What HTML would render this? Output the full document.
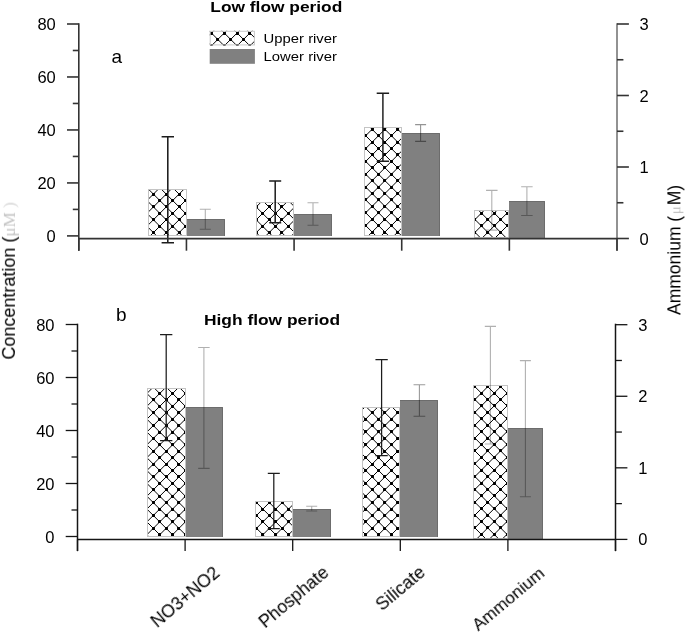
<!DOCTYPE html>
<html><head><meta charset="utf-8"><style>
html,body{margin:0;padding:0;background:#fff;}
svg{display:block;} text{will-change:transform;}
</style></head><body>
<svg width="685" height="633" viewBox="0 0 685 633">
<rect width="685" height="633" fill="#fff"/>
<defs><clipPath id="cu1"><rect x="148.00" y="189.00" width="39.00" height="47.00"/></clipPath><clipPath id="cu2"><rect x="256.00" y="202.00" width="38.00" height="34.00"/></clipPath><clipPath id="cu3"><rect x="364.00" y="127.00" width="38.00" height="109.00"/></clipPath><clipPath id="cu4"><rect x="474.00" y="210.00" width="35.00" height="28.00"/></clipPath><clipPath id="cl1"><rect x="147.00" y="388.00" width="39.00" height="149.00"/></clipPath><clipPath id="cl2"><rect x="255.00" y="501.00" width="38.00" height="36.00"/></clipPath><clipPath id="cl3"><rect x="362.00" y="407.00" width="38.00" height="130.00"/></clipPath><clipPath id="cl4"><rect x="473.00" y="385.00" width="35.00" height="154.00"/></clipPath><clipPath id="cpl"><rect x="209.7" y="30.8" width="45.2" height="14.6"/></clipPath></defs>
<g clip-path="url(#cu1)"><rect x="148.0" y="189.0" width="39.00" height="47.00" fill="#fff"/>
<path d="M145.00 121.50L190.00 166.50M145.00 134.34L190.00 179.34M145.00 147.18L190.00 192.18M145.00 160.02L190.00 205.02M145.00 172.86L190.00 217.86M145.00 185.70L190.00 230.70M145.00 198.54L190.00 243.54M145.00 211.38L190.00 256.38M145.00 224.22L190.00 269.22M145.00 237.06L190.00 282.06M145.00 249.90L190.00 294.90M145.00 176.82L190.00 131.82M145.00 189.66L190.00 144.66M145.00 202.50L190.00 157.50M145.00 215.34L190.00 170.34M145.00 228.18L190.00 183.18M145.00 241.02L190.00 196.02M145.00 253.86L190.00 208.86M145.00 266.70L190.00 221.70M145.00 279.54L190.00 234.54M145.00 292.38L190.00 247.38" stroke="#000" stroke-width="1.0" fill="none"/>
<path d="M145.05 186.05h2.9v2.9h-2.9zM145.05 199.05h2.9v2.9h-2.9zM145.05 212.05h2.9v2.9h-2.9zM145.05 225.05h2.9v2.9h-2.9zM152.05 193.05h2.9v2.9h-2.9zM152.05 205.05h2.9v2.9h-2.9zM152.05 218.05h2.9v2.9h-2.9zM152.05 231.05h2.9v2.9h-2.9zM158.05 186.05h2.9v2.9h-2.9zM158.05 199.05h2.9v2.9h-2.9zM158.05 212.05h2.9v2.9h-2.9zM158.05 225.05h2.9v2.9h-2.9zM165.05 193.05h2.9v2.9h-2.9zM165.05 205.05h2.9v2.9h-2.9zM165.05 218.05h2.9v2.9h-2.9zM165.05 231.05h2.9v2.9h-2.9zM171.05 186.05h2.9v2.9h-2.9zM171.05 199.05h2.9v2.9h-2.9zM171.05 212.05h2.9v2.9h-2.9zM171.05 225.05h2.9v2.9h-2.9zM178.05 193.05h2.9v2.9h-2.9zM178.05 205.05h2.9v2.9h-2.9zM178.05 218.05h2.9v2.9h-2.9zM178.05 231.05h2.9v2.9h-2.9zM184.05 186.05h2.9v2.9h-2.9zM184.05 199.05h2.9v2.9h-2.9zM184.05 212.05h2.9v2.9h-2.9zM184.05 225.05h2.9v2.9h-2.9z" fill="#000"/></g>
<rect x="148.50" y="189.50" width="38.00" height="46.00" fill="none" stroke="#c4c4c4" stroke-width="1"/>
<rect x="187" y="219" width="38" height="17" fill="#808080"/>
<path d="M187 219.5H224.5V236" fill="none" stroke="#6c6c6c" stroke-width="1"/>
<g clip-path="url(#cu2)"><rect x="256.0" y="202.0" width="38.00" height="34.00" fill="#fff"/>
<path d="M253.00 139.60L297.00 183.60M253.00 152.44L297.00 196.44M253.00 165.28L297.00 209.28M253.00 178.12L297.00 222.12M253.00 190.96L297.00 234.96M253.00 203.80L297.00 247.80M253.00 216.64L297.00 260.64M253.00 229.48L297.00 273.48M253.00 242.32L297.00 286.32M253.00 255.16L297.00 299.16M253.00 184.48L297.00 140.48M253.00 197.32L297.00 153.32M253.00 210.16L297.00 166.16M253.00 223.00L297.00 179.00M253.00 235.84L297.00 191.84M253.00 248.68L297.00 204.68M253.00 261.52L297.00 217.52M253.00 274.36L297.00 230.36M253.00 287.20L297.00 243.20M253.00 300.04L297.00 256.04" stroke="#000" stroke-width="1.0" fill="none"/>
<path d="M255.05 205.05h2.9v2.9h-2.9zM255.05 218.05h2.9v2.9h-2.9zM255.05 231.05h2.9v2.9h-2.9zM261.05 199.05h2.9v2.9h-2.9zM261.05 212.05h2.9v2.9h-2.9zM261.05 225.05h2.9v2.9h-2.9zM268.05 205.05h2.9v2.9h-2.9zM268.05 218.05h2.9v2.9h-2.9zM268.05 231.05h2.9v2.9h-2.9zM274.05 199.05h2.9v2.9h-2.9zM274.05 212.05h2.9v2.9h-2.9zM274.05 225.05h2.9v2.9h-2.9zM280.05 205.05h2.9v2.9h-2.9zM280.05 218.05h2.9v2.9h-2.9zM280.05 231.05h2.9v2.9h-2.9zM287.05 199.05h2.9v2.9h-2.9zM287.05 212.05h2.9v2.9h-2.9zM287.05 225.05h2.9v2.9h-2.9zM293.05 205.05h2.9v2.9h-2.9zM293.05 218.05h2.9v2.9h-2.9zM293.05 231.05h2.9v2.9h-2.9z" fill="#000"/></g>
<rect x="256.50" y="202.50" width="37.00" height="33.00" fill="none" stroke="#c4c4c4" stroke-width="1"/>
<rect x="294" y="214" width="38" height="22" fill="#808080"/>
<path d="M294 214.5H331.5V236" fill="none" stroke="#6c6c6c" stroke-width="1"/>
<g clip-path="url(#cu3)"><rect x="364.0" y="127.0" width="38.00" height="109.00" fill="#fff"/>
<path d="M361.00 66.84L405.00 110.84M361.00 79.68L405.00 123.68M361.00 92.52L405.00 136.52M361.00 105.36L405.00 149.36M361.00 118.20L405.00 162.20M361.00 131.04L405.00 175.04M361.00 143.88L405.00 187.88M361.00 156.72L405.00 200.72M361.00 169.56L405.00 213.56M361.00 182.40L405.00 226.40M361.00 195.24L405.00 239.24M361.00 208.08L405.00 252.08M361.00 220.92L405.00 264.92M361.00 233.76L405.00 277.76M361.00 246.60L405.00 290.60M361.00 114.72L405.00 70.72M361.00 127.56L405.00 83.56M361.00 140.40L405.00 96.40M361.00 153.24L405.00 109.24M361.00 166.08L405.00 122.08M361.00 178.92L405.00 134.92M361.00 191.76L405.00 147.76M361.00 204.60L405.00 160.60M361.00 217.44L405.00 173.44M361.00 230.28L405.00 186.28M361.00 243.12L405.00 199.12M361.00 255.96L405.00 211.96M361.00 268.80L405.00 224.80M361.00 281.64L405.00 237.64M361.00 294.48L405.00 250.48" stroke="#000" stroke-width="1.0" fill="none"/>
<path d="M364.05 134.05h2.9v2.9h-2.9zM364.05 147.05h2.9v2.9h-2.9zM364.05 160.05h2.9v2.9h-2.9zM364.05 173.05h2.9v2.9h-2.9zM364.05 186.05h2.9v2.9h-2.9zM364.05 198.05h2.9v2.9h-2.9zM364.05 211.05h2.9v2.9h-2.9zM364.05 224.05h2.9v2.9h-2.9zM371.05 128.05h2.9v2.9h-2.9zM371.05 141.05h2.9v2.9h-2.9zM371.05 153.05h2.9v2.9h-2.9zM371.05 166.05h2.9v2.9h-2.9zM371.05 179.05h2.9v2.9h-2.9zM371.05 192.05h2.9v2.9h-2.9zM371.05 205.05h2.9v2.9h-2.9zM371.05 218.05h2.9v2.9h-2.9zM371.05 231.05h2.9v2.9h-2.9zM377.05 134.05h2.9v2.9h-2.9zM377.05 147.05h2.9v2.9h-2.9zM377.05 160.05h2.9v2.9h-2.9zM377.05 173.05h2.9v2.9h-2.9zM377.05 186.05h2.9v2.9h-2.9zM377.05 198.05h2.9v2.9h-2.9zM377.05 211.05h2.9v2.9h-2.9zM377.05 224.05h2.9v2.9h-2.9zM383.05 128.05h2.9v2.9h-2.9zM383.05 141.05h2.9v2.9h-2.9zM383.05 153.05h2.9v2.9h-2.9zM383.05 166.05h2.9v2.9h-2.9zM383.05 179.05h2.9v2.9h-2.9zM383.05 192.05h2.9v2.9h-2.9zM383.05 205.05h2.9v2.9h-2.9zM383.05 218.05h2.9v2.9h-2.9zM383.05 231.05h2.9v2.9h-2.9zM390.05 134.05h2.9v2.9h-2.9zM390.05 147.05h2.9v2.9h-2.9zM390.05 160.05h2.9v2.9h-2.9zM390.05 173.05h2.9v2.9h-2.9zM390.05 186.05h2.9v2.9h-2.9zM390.05 198.05h2.9v2.9h-2.9zM390.05 211.05h2.9v2.9h-2.9zM390.05 224.05h2.9v2.9h-2.9zM396.05 128.05h2.9v2.9h-2.9zM396.05 141.05h2.9v2.9h-2.9zM396.05 153.05h2.9v2.9h-2.9zM396.05 166.05h2.9v2.9h-2.9zM396.05 179.05h2.9v2.9h-2.9zM396.05 192.05h2.9v2.9h-2.9zM396.05 205.05h2.9v2.9h-2.9zM396.05 218.05h2.9v2.9h-2.9zM396.05 231.05h2.9v2.9h-2.9z" fill="#000"/></g>
<rect x="364.50" y="127.50" width="37.00" height="108.00" fill="none" stroke="#c4c4c4" stroke-width="1"/>
<rect x="402" y="133" width="38" height="103" fill="#808080"/>
<path d="M402 133.5H439.5V236" fill="none" stroke="#6c6c6c" stroke-width="1"/>
<g clip-path="url(#cu4)"><rect x="474.0" y="210.0" width="35.00" height="28.00" fill="#fff"/>
<path d="M471.00 151.34L512.00 192.34M471.00 164.18L512.00 205.18M471.00 177.02L512.00 218.02M471.00 189.86L512.00 230.86M471.00 202.70L512.00 243.70M471.00 215.54L512.00 256.54M471.00 228.38L512.00 269.38M471.00 241.22L512.00 282.22M471.00 254.06L512.00 295.06M471.00 197.82L512.00 156.82M471.00 210.66L512.00 169.66M471.00 223.50L512.00 182.50M471.00 236.34L512.00 195.34M471.00 249.18L512.00 208.18M471.00 262.02L512.00 221.02M471.00 274.86L512.00 233.86M471.00 287.70L512.00 246.70M471.00 300.54L512.00 259.54" stroke="#000" stroke-width="1.0" fill="none"/>
<path d="M473.05 218.05h2.9v2.9h-2.9zM473.05 231.05h2.9v2.9h-2.9zM480.05 212.05h2.9v2.9h-2.9zM480.05 224.05h2.9v2.9h-2.9zM480.05 237.05h2.9v2.9h-2.9zM486.05 218.05h2.9v2.9h-2.9zM486.05 231.05h2.9v2.9h-2.9zM493.05 212.05h2.9v2.9h-2.9zM493.05 224.05h2.9v2.9h-2.9zM493.05 237.05h2.9v2.9h-2.9zM499.05 218.05h2.9v2.9h-2.9zM499.05 231.05h2.9v2.9h-2.9zM506.05 212.05h2.9v2.9h-2.9zM506.05 224.05h2.9v2.9h-2.9zM506.05 237.05h2.9v2.9h-2.9z" fill="#000"/></g>
<rect x="474.50" y="210.50" width="34.00" height="27.00" fill="none" stroke="#c4c4c4" stroke-width="1"/>
<rect x="509" y="201" width="36" height="37" fill="#808080"/>
<path d="M509 201.5H544.5V238" fill="none" stroke="#6c6c6c" stroke-width="1"/>
<g clip-path="url(#cl1)"><rect x="147.0" y="388.0" width="39.00" height="149.00" fill="#fff"/>
<path d="M144.00 326.40L189.00 371.40M144.00 339.24L189.00 384.24M144.00 352.08L189.00 397.08M144.00 364.92L189.00 409.92M144.00 377.76L189.00 422.76M144.00 390.60L189.00 435.60M144.00 403.44L189.00 448.44M144.00 416.28L189.00 461.28M144.00 429.12L189.00 474.12M144.00 441.96L189.00 486.96M144.00 454.80L189.00 499.80M144.00 467.64L189.00 512.64M144.00 480.48L189.00 525.48M144.00 493.32L189.00 538.32M144.00 506.16L189.00 551.16M144.00 519.00L189.00 564.00M144.00 531.84L189.00 576.84M144.00 544.68L189.00 589.68M144.00 557.52L189.00 602.52M144.00 370.68L189.00 325.68M144.00 383.52L189.00 338.52M144.00 396.36L189.00 351.36M144.00 409.20L189.00 364.20M144.00 422.04L189.00 377.04M144.00 434.88L189.00 389.88M144.00 447.72L189.00 402.72M144.00 460.56L189.00 415.56M144.00 473.40L189.00 428.40M144.00 486.24L189.00 441.24M144.00 499.08L189.00 454.08M144.00 511.92L189.00 466.92M144.00 524.76L189.00 479.76M144.00 537.60L189.00 492.60M144.00 550.44L189.00 505.44M144.00 563.28L189.00 518.28M144.00 576.12L189.00 531.12M144.00 588.96L189.00 543.96M144.00 601.80L189.00 556.80" stroke="#000" stroke-width="1.0" fill="none"/>
<path d="M145.05 392.05h2.9v2.9h-2.9zM145.05 405.05h2.9v2.9h-2.9zM145.05 418.05h2.9v2.9h-2.9zM145.05 431.05h2.9v2.9h-2.9zM145.05 443.05h2.9v2.9h-2.9zM145.05 456.05h2.9v2.9h-2.9zM145.05 469.05h2.9v2.9h-2.9zM145.05 482.05h2.9v2.9h-2.9zM145.05 495.05h2.9v2.9h-2.9zM145.05 508.05h2.9v2.9h-2.9zM145.05 520.05h2.9v2.9h-2.9zM145.05 533.05h2.9v2.9h-2.9zM152.05 386.05h2.9v2.9h-2.9zM152.05 398.05h2.9v2.9h-2.9zM152.05 411.05h2.9v2.9h-2.9zM152.05 424.05h2.9v2.9h-2.9zM152.05 437.05h2.9v2.9h-2.9zM152.05 450.05h2.9v2.9h-2.9zM152.05 463.05h2.9v2.9h-2.9zM152.05 475.05h2.9v2.9h-2.9zM152.05 488.05h2.9v2.9h-2.9zM152.05 501.05h2.9v2.9h-2.9zM152.05 514.05h2.9v2.9h-2.9zM152.05 527.05h2.9v2.9h-2.9zM158.05 392.05h2.9v2.9h-2.9zM158.05 405.05h2.9v2.9h-2.9zM158.05 418.05h2.9v2.9h-2.9zM158.05 431.05h2.9v2.9h-2.9zM158.05 443.05h2.9v2.9h-2.9zM158.05 456.05h2.9v2.9h-2.9zM158.05 469.05h2.9v2.9h-2.9zM158.05 482.05h2.9v2.9h-2.9zM158.05 495.05h2.9v2.9h-2.9zM158.05 508.05h2.9v2.9h-2.9zM158.05 520.05h2.9v2.9h-2.9zM158.05 533.05h2.9v2.9h-2.9zM165.05 386.05h2.9v2.9h-2.9zM165.05 398.05h2.9v2.9h-2.9zM165.05 411.05h2.9v2.9h-2.9zM165.05 424.05h2.9v2.9h-2.9zM165.05 437.05h2.9v2.9h-2.9zM165.05 450.05h2.9v2.9h-2.9zM165.05 463.05h2.9v2.9h-2.9zM165.05 475.05h2.9v2.9h-2.9zM165.05 488.05h2.9v2.9h-2.9zM165.05 501.05h2.9v2.9h-2.9zM165.05 514.05h2.9v2.9h-2.9zM165.05 527.05h2.9v2.9h-2.9zM171.05 392.05h2.9v2.9h-2.9zM171.05 405.05h2.9v2.9h-2.9zM171.05 418.05h2.9v2.9h-2.9zM171.05 431.05h2.9v2.9h-2.9zM171.05 443.05h2.9v2.9h-2.9zM171.05 456.05h2.9v2.9h-2.9zM171.05 469.05h2.9v2.9h-2.9zM171.05 482.05h2.9v2.9h-2.9zM171.05 495.05h2.9v2.9h-2.9zM171.05 508.05h2.9v2.9h-2.9zM171.05 520.05h2.9v2.9h-2.9zM171.05 533.05h2.9v2.9h-2.9zM177.05 386.05h2.9v2.9h-2.9zM177.05 398.05h2.9v2.9h-2.9zM177.05 411.05h2.9v2.9h-2.9zM177.05 424.05h2.9v2.9h-2.9zM177.05 437.05h2.9v2.9h-2.9zM177.05 450.05h2.9v2.9h-2.9zM177.05 463.05h2.9v2.9h-2.9zM177.05 475.05h2.9v2.9h-2.9zM177.05 488.05h2.9v2.9h-2.9zM177.05 501.05h2.9v2.9h-2.9zM177.05 514.05h2.9v2.9h-2.9zM177.05 527.05h2.9v2.9h-2.9zM184.05 392.05h2.9v2.9h-2.9zM184.05 405.05h2.9v2.9h-2.9zM184.05 418.05h2.9v2.9h-2.9zM184.05 431.05h2.9v2.9h-2.9zM184.05 443.05h2.9v2.9h-2.9zM184.05 456.05h2.9v2.9h-2.9zM184.05 469.05h2.9v2.9h-2.9zM184.05 482.05h2.9v2.9h-2.9zM184.05 495.05h2.9v2.9h-2.9zM184.05 508.05h2.9v2.9h-2.9zM184.05 520.05h2.9v2.9h-2.9zM184.05 533.05h2.9v2.9h-2.9z" fill="#000"/></g>
<rect x="147.50" y="388.50" width="38.00" height="148.00" fill="none" stroke="#c4c4c4" stroke-width="1"/>
<rect x="186" y="407" width="37" height="130" fill="#808080"/>
<path d="M186 407.5H222.5V537" fill="none" stroke="#6c6c6c" stroke-width="1"/>
<g clip-path="url(#cl2)"><rect x="255.0" y="501.0" width="38.00" height="36.00" fill="#fff"/>
<path d="M252.00 446.74L296.00 490.74M252.00 459.58L296.00 503.58M252.00 472.42L296.00 516.42M252.00 485.26L296.00 529.26M252.00 498.10L296.00 542.10M252.00 510.94L296.00 554.94M252.00 523.78L296.00 567.78M252.00 536.62L296.00 580.62M252.00 549.46L296.00 593.46M252.00 481.42L296.00 437.42M252.00 494.26L296.00 450.26M252.00 507.10L296.00 463.10M252.00 519.94L296.00 475.94M252.00 532.78L296.00 488.78M252.00 545.62L296.00 501.62M252.00 558.46L296.00 514.46M252.00 571.30L296.00 527.30M252.00 584.14L296.00 540.14M252.00 596.98L296.00 552.98" stroke="#000" stroke-width="1.0" fill="none"/>
<path d="M255.05 501.05h2.9v2.9h-2.9zM255.05 514.05h2.9v2.9h-2.9zM255.05 527.05h2.9v2.9h-2.9zM261.05 508.05h2.9v2.9h-2.9zM261.05 520.05h2.9v2.9h-2.9zM261.05 533.05h2.9v2.9h-2.9zM268.05 501.05h2.9v2.9h-2.9zM268.05 514.05h2.9v2.9h-2.9zM268.05 527.05h2.9v2.9h-2.9zM274.05 508.05h2.9v2.9h-2.9zM274.05 520.05h2.9v2.9h-2.9zM274.05 533.05h2.9v2.9h-2.9zM281.05 501.05h2.9v2.9h-2.9zM281.05 514.05h2.9v2.9h-2.9zM281.05 527.05h2.9v2.9h-2.9zM287.05 508.05h2.9v2.9h-2.9zM287.05 520.05h2.9v2.9h-2.9zM287.05 533.05h2.9v2.9h-2.9z" fill="#000"/></g>
<rect x="255.50" y="501.50" width="37.00" height="35.00" fill="none" stroke="#c4c4c4" stroke-width="1"/>
<rect x="293" y="509" width="38" height="28" fill="#808080"/>
<path d="M293 509.5H330.5V537" fill="none" stroke="#6c6c6c" stroke-width="1"/>
<g clip-path="url(#cl3)"><rect x="362.0" y="407.0" width="38.00" height="130.00" fill="#fff"/>
<path d="M359.00 348.24L403.00 392.24M359.00 361.08L403.00 405.08M359.00 373.92L403.00 417.92M359.00 386.76L403.00 430.76M359.00 399.60L403.00 443.60M359.00 412.44L403.00 456.44M359.00 425.28L403.00 469.28M359.00 438.12L403.00 482.12M359.00 450.96L403.00 494.96M359.00 463.80L403.00 507.80M359.00 476.64L403.00 520.64M359.00 489.48L403.00 533.48M359.00 502.32L403.00 546.32M359.00 515.16L403.00 559.16M359.00 528.00L403.00 572.00M359.00 540.84L403.00 584.84M359.00 553.68L403.00 597.68M359.00 387.28L403.00 343.28M359.00 400.12L403.00 356.12M359.00 412.96L403.00 368.96M359.00 425.80L403.00 381.80M359.00 438.64L403.00 394.64M359.00 451.48L403.00 407.48M359.00 464.32L403.00 420.32M359.00 477.16L403.00 433.16M359.00 490.00L403.00 446.00M359.00 502.84L403.00 458.84M359.00 515.68L403.00 471.68M359.00 528.52L403.00 484.52M359.00 541.36L403.00 497.36M359.00 554.20L403.00 510.20M359.00 567.04L403.00 523.04M359.00 579.88L403.00 535.88M359.00 592.72L403.00 548.72" stroke="#000" stroke-width="1.0" fill="none"/>
<path d="M364.05 405.05h2.9v2.9h-2.9zM364.05 418.05h2.9v2.9h-2.9zM364.05 430.05h2.9v2.9h-2.9zM364.05 443.05h2.9v2.9h-2.9zM364.05 456.05h2.9v2.9h-2.9zM364.05 469.05h2.9v2.9h-2.9zM364.05 482.05h2.9v2.9h-2.9zM364.05 495.05h2.9v2.9h-2.9zM364.05 508.05h2.9v2.9h-2.9zM364.05 520.05h2.9v2.9h-2.9zM364.05 533.05h2.9v2.9h-2.9zM371.05 411.05h2.9v2.9h-2.9zM371.05 424.05h2.9v2.9h-2.9zM371.05 437.05h2.9v2.9h-2.9zM371.05 450.05h2.9v2.9h-2.9zM371.05 463.05h2.9v2.9h-2.9zM371.05 475.05h2.9v2.9h-2.9zM371.05 488.05h2.9v2.9h-2.9zM371.05 501.05h2.9v2.9h-2.9zM371.05 514.05h2.9v2.9h-2.9zM371.05 527.05h2.9v2.9h-2.9zM377.05 405.05h2.9v2.9h-2.9zM377.05 418.05h2.9v2.9h-2.9zM377.05 430.05h2.9v2.9h-2.9zM377.05 443.05h2.9v2.9h-2.9zM377.05 456.05h2.9v2.9h-2.9zM377.05 469.05h2.9v2.9h-2.9zM377.05 482.05h2.9v2.9h-2.9zM377.05 495.05h2.9v2.9h-2.9zM377.05 508.05h2.9v2.9h-2.9zM377.05 520.05h2.9v2.9h-2.9zM377.05 533.05h2.9v2.9h-2.9zM383.05 411.05h2.9v2.9h-2.9zM383.05 424.05h2.9v2.9h-2.9zM383.05 437.05h2.9v2.9h-2.9zM383.05 450.05h2.9v2.9h-2.9zM383.05 463.05h2.9v2.9h-2.9zM383.05 475.05h2.9v2.9h-2.9zM383.05 488.05h2.9v2.9h-2.9zM383.05 501.05h2.9v2.9h-2.9zM383.05 514.05h2.9v2.9h-2.9zM383.05 527.05h2.9v2.9h-2.9zM390.05 405.05h2.9v2.9h-2.9zM390.05 418.05h2.9v2.9h-2.9zM390.05 430.05h2.9v2.9h-2.9zM390.05 443.05h2.9v2.9h-2.9zM390.05 456.05h2.9v2.9h-2.9zM390.05 469.05h2.9v2.9h-2.9zM390.05 482.05h2.9v2.9h-2.9zM390.05 495.05h2.9v2.9h-2.9zM390.05 508.05h2.9v2.9h-2.9zM390.05 520.05h2.9v2.9h-2.9zM390.05 533.05h2.9v2.9h-2.9zM396.05 411.05h2.9v2.9h-2.9zM396.05 424.05h2.9v2.9h-2.9zM396.05 437.05h2.9v2.9h-2.9zM396.05 450.05h2.9v2.9h-2.9zM396.05 463.05h2.9v2.9h-2.9zM396.05 475.05h2.9v2.9h-2.9zM396.05 488.05h2.9v2.9h-2.9zM396.05 501.05h2.9v2.9h-2.9zM396.05 514.05h2.9v2.9h-2.9zM396.05 527.05h2.9v2.9h-2.9z" fill="#000"/></g>
<rect x="362.50" y="407.50" width="37.00" height="129.00" fill="none" stroke="#c4c4c4" stroke-width="1"/>
<rect x="400" y="400" width="38" height="137" fill="#808080"/>
<path d="M400 400.5H437.5V537" fill="none" stroke="#6c6c6c" stroke-width="1"/>
<g clip-path="url(#cl4)"><rect x="473.0" y="385.0" width="35.00" height="154.00" fill="#fff"/>
<path d="M470.00 330.44L511.00 371.44M470.00 343.28L511.00 384.28M470.00 356.12L511.00 397.12M470.00 368.96L511.00 409.96M470.00 381.80L511.00 422.80M470.00 394.64L511.00 435.64M470.00 407.48L511.00 448.48M470.00 420.32L511.00 461.32M470.00 433.16L511.00 474.16M470.00 446.00L511.00 487.00M470.00 458.84L511.00 499.84M470.00 471.68L511.00 512.68M470.00 484.52L511.00 525.52M470.00 497.36L511.00 538.36M470.00 510.20L511.00 551.20M470.00 523.04L511.00 564.04M470.00 535.88L511.00 576.88M470.00 548.72L511.00 589.72M470.00 561.56L511.00 602.56M470.00 365.92L511.00 324.92M470.00 378.76L511.00 337.76M470.00 391.60L511.00 350.60M470.00 404.44L511.00 363.44M470.00 417.28L511.00 376.28M470.00 430.12L511.00 389.12M470.00 442.96L511.00 401.96M470.00 455.80L511.00 414.80M470.00 468.64L511.00 427.64M470.00 481.48L511.00 440.48M470.00 494.32L511.00 453.32M470.00 507.16L511.00 466.16M470.00 520.00L511.00 479.00M470.00 532.84L511.00 491.84M470.00 545.68L511.00 504.68M470.00 558.52L511.00 517.52M470.00 571.36L511.00 530.36M470.00 584.20L511.00 543.20M470.00 597.04L511.00 556.04" stroke="#000" stroke-width="1.0" fill="none"/>
<path d="M473.05 385.05h2.9v2.9h-2.9zM473.05 398.05h2.9v2.9h-2.9zM473.05 411.05h2.9v2.9h-2.9zM473.05 424.05h2.9v2.9h-2.9zM473.05 437.05h2.9v2.9h-2.9zM473.05 449.05h2.9v2.9h-2.9zM473.05 462.05h2.9v2.9h-2.9zM473.05 475.05h2.9v2.9h-2.9zM473.05 488.05h2.9v2.9h-2.9zM473.05 501.05h2.9v2.9h-2.9zM473.05 514.05h2.9v2.9h-2.9zM473.05 526.05h2.9v2.9h-2.9zM473.05 539.05h2.9v2.9h-2.9zM480.05 392.05h2.9v2.9h-2.9zM480.05 404.05h2.9v2.9h-2.9zM480.05 417.05h2.9v2.9h-2.9zM480.05 430.05h2.9v2.9h-2.9zM480.05 443.05h2.9v2.9h-2.9zM480.05 456.05h2.9v2.9h-2.9zM480.05 469.05h2.9v2.9h-2.9zM480.05 482.05h2.9v2.9h-2.9zM480.05 494.05h2.9v2.9h-2.9zM480.05 507.05h2.9v2.9h-2.9zM480.05 520.05h2.9v2.9h-2.9zM480.05 533.05h2.9v2.9h-2.9zM486.05 385.05h2.9v2.9h-2.9zM486.05 398.05h2.9v2.9h-2.9zM486.05 411.05h2.9v2.9h-2.9zM486.05 424.05h2.9v2.9h-2.9zM486.05 437.05h2.9v2.9h-2.9zM486.05 449.05h2.9v2.9h-2.9zM486.05 462.05h2.9v2.9h-2.9zM486.05 475.05h2.9v2.9h-2.9zM486.05 488.05h2.9v2.9h-2.9zM486.05 501.05h2.9v2.9h-2.9zM486.05 514.05h2.9v2.9h-2.9zM486.05 526.05h2.9v2.9h-2.9zM486.05 539.05h2.9v2.9h-2.9zM493.05 392.05h2.9v2.9h-2.9zM493.05 404.05h2.9v2.9h-2.9zM493.05 417.05h2.9v2.9h-2.9zM493.05 430.05h2.9v2.9h-2.9zM493.05 443.05h2.9v2.9h-2.9zM493.05 456.05h2.9v2.9h-2.9zM493.05 469.05h2.9v2.9h-2.9zM493.05 482.05h2.9v2.9h-2.9zM493.05 494.05h2.9v2.9h-2.9zM493.05 507.05h2.9v2.9h-2.9zM493.05 520.05h2.9v2.9h-2.9zM493.05 533.05h2.9v2.9h-2.9zM499.05 385.05h2.9v2.9h-2.9zM499.05 398.05h2.9v2.9h-2.9zM499.05 411.05h2.9v2.9h-2.9zM499.05 424.05h2.9v2.9h-2.9zM499.05 437.05h2.9v2.9h-2.9zM499.05 449.05h2.9v2.9h-2.9zM499.05 462.05h2.9v2.9h-2.9zM499.05 475.05h2.9v2.9h-2.9zM499.05 488.05h2.9v2.9h-2.9zM499.05 501.05h2.9v2.9h-2.9zM499.05 514.05h2.9v2.9h-2.9zM499.05 526.05h2.9v2.9h-2.9zM499.05 539.05h2.9v2.9h-2.9zM506.05 392.05h2.9v2.9h-2.9zM506.05 404.05h2.9v2.9h-2.9zM506.05 417.05h2.9v2.9h-2.9zM506.05 430.05h2.9v2.9h-2.9zM506.05 443.05h2.9v2.9h-2.9zM506.05 456.05h2.9v2.9h-2.9zM506.05 469.05h2.9v2.9h-2.9zM506.05 482.05h2.9v2.9h-2.9zM506.05 494.05h2.9v2.9h-2.9zM506.05 507.05h2.9v2.9h-2.9zM506.05 520.05h2.9v2.9h-2.9zM506.05 533.05h2.9v2.9h-2.9z" fill="#000"/></g>
<rect x="473.50" y="385.50" width="34.00" height="153.00" fill="none" stroke="#c4c4c4" stroke-width="1"/>
<rect x="508" y="428" width="35" height="111" fill="#808080"/>
<path d="M508 428.5H542.5V539" fill="none" stroke="#6c6c6c" stroke-width="1"/>
<path d="M167.80 136.75V242.80M161.60 136.75H174.00M161.60 242.80H174.00" stroke="#1c1c1c" stroke-width="1.55" fill="none"/>
<path d="M205.30 209.20V229.20M199.80 209.20H210.80M199.80 229.20H210.80" stroke="rgba(0,0,0,0.31)" stroke-width="1.1" fill="none"/>
<path d="M275.20 181.00V222.80M269.20 181.00H281.20M269.20 222.80H281.20" stroke="#1c1c1c" stroke-width="1.5" fill="none"/>
<path d="M313.00 202.80V225.20M307.50 202.80H318.50M307.50 225.20H318.50" stroke="rgba(0,0,0,0.31)" stroke-width="1.1" fill="none"/>
<path d="M382.90 93.30V161.20M376.70 93.30H389.10M376.70 161.20H389.10" stroke="#1c1c1c" stroke-width="1.45" fill="none"/>
<path d="M420.60 124.60V141.40M415.10 124.60H426.10M415.10 141.40H426.10" stroke="rgba(0,0,0,0.42)" stroke-width="1.1" fill="none"/>
<path d="M491.80 190.40V230.10M486.05 190.40H497.55M486.05 230.10H497.55" stroke="rgba(0,0,0,0.31)" stroke-width="1.1" fill="none"/>
<path d="M526.90 186.80V215.50M521.15 186.80H532.65M521.15 215.50H532.65" stroke="rgba(0,0,0,0.31)" stroke-width="1.1" fill="none"/>
<path d="M166.20 334.50V440.50M160.05 334.50H172.35M160.05 440.50H172.35" stroke="#1c1c1c" stroke-width="1.25" fill="none"/>
<path d="M203.90 347.50V468.40M198.15 347.50H209.65M198.15 468.40H209.65" stroke="rgba(0,0,0,0.31)" stroke-width="1.1" fill="none"/>
<path d="M273.80 473.30V528.70M267.80 473.30H279.80M267.80 528.70H279.80" stroke="#1c1c1c" stroke-width="1.25" fill="none"/>
<path d="M311.70 506.30V511.00M306.20 506.30H317.20M306.20 511.00H317.20" stroke="rgba(0,0,0,0.31)" stroke-width="1.1" fill="none"/>
<path d="M381.60 359.50V455.50M375.45 359.50H387.75M375.45 455.50H387.75" stroke="#1c1c1c" stroke-width="1.25" fill="none"/>
<path d="M419.40 384.70V416.30M413.55 384.70H425.25M413.55 416.30H425.25" stroke="rgba(0,0,0,0.4)" stroke-width="1.1" fill="none"/>
<path d="M490.40 326.40V444.00M484.80 326.40H496.00M484.80 444.00H496.00" stroke="rgba(0,0,0,0.31)" stroke-width="1.1" fill="none"/>
<path d="M525.40 360.60V496.80M519.90 360.60H530.90M519.90 496.80H530.90" stroke="rgba(0,0,0,0.31)" stroke-width="1.1" fill="none"/>
<line x1="78.8" y1="23.2" x2="78.8" y2="250.7" stroke="#333" stroke-width="1.6"/>
<line x1="67.00" y1="24.00" x2="78.8" y2="24.00" stroke="#333" stroke-width="1.6"/>
<line x1="72.80" y1="50.49" x2="78.8" y2="50.49" stroke="#333" stroke-width="1.6"/>
<line x1="67.00" y1="76.97" x2="78.8" y2="76.97" stroke="#333" stroke-width="1.6"/>
<line x1="72.80" y1="103.46" x2="78.8" y2="103.46" stroke="#333" stroke-width="1.6"/>
<line x1="67.00" y1="129.95" x2="78.8" y2="129.95" stroke="#333" stroke-width="1.6"/>
<line x1="72.80" y1="156.44" x2="78.8" y2="156.44" stroke="#333" stroke-width="1.6"/>
<line x1="67.00" y1="182.93" x2="78.8" y2="182.93" stroke="#333" stroke-width="1.6"/>
<line x1="72.80" y1="209.41" x2="78.8" y2="209.41" stroke="#333" stroke-width="1.6"/>
<line x1="67.00" y1="235.90" x2="78.8" y2="235.90" stroke="#333" stroke-width="1.6"/>
<line x1="617.0" y1="23.2" x2="617.0" y2="250.7" stroke="#777" stroke-width="1.6"/>
<line x1="617.0" y1="24.00" x2="628.90" y2="24.00" stroke="#333" stroke-width="1.6"/>
<line x1="617.0" y1="59.75" x2="623.40" y2="59.75" stroke="#333" stroke-width="1.6"/>
<line x1="617.0" y1="95.50" x2="628.90" y2="95.50" stroke="#333" stroke-width="1.6"/>
<line x1="617.0" y1="131.25" x2="623.40" y2="131.25" stroke="#333" stroke-width="1.6"/>
<line x1="617.0" y1="167.00" x2="628.90" y2="167.00" stroke="#333" stroke-width="1.6"/>
<line x1="617.0" y1="202.75" x2="623.40" y2="202.75" stroke="#333" stroke-width="1.6"/>
<line x1="617.0" y1="238.50" x2="628.90" y2="238.50" stroke="#333" stroke-width="1.6"/>
<line x1="78.8" y1="238.6" x2="617.0" y2="238.6" stroke="#333" stroke-width="1.6"/>
<line x1="78.80" y1="238.6" x2="78.80" y2="250.7" stroke="#333" stroke-width="1.6"/>
<line x1="186.44" y1="238.6" x2="186.44" y2="250.7" stroke="#333" stroke-width="1.6"/>
<line x1="294.08" y1="238.6" x2="294.08" y2="250.7" stroke="#333" stroke-width="1.6"/>
<line x1="401.72" y1="238.6" x2="401.72" y2="250.7" stroke="#333" stroke-width="1.6"/>
<line x1="509.36" y1="238.6" x2="509.36" y2="250.7" stroke="#333" stroke-width="1.6"/>
<line x1="617.00" y1="238.6" x2="617.00" y2="250.7" stroke="#333" stroke-width="1.6"/>
<line x1="77.5" y1="323.7" x2="77.5" y2="551.1" stroke="#151515" stroke-width="1.5"/>
<line x1="65.70" y1="324.50" x2="77.5" y2="324.50" stroke="#151515" stroke-width="1.3"/>
<line x1="71.50" y1="351.00" x2="77.5" y2="351.00" stroke="#151515" stroke-width="1.3"/>
<line x1="65.70" y1="377.50" x2="77.5" y2="377.50" stroke="#151515" stroke-width="1.3"/>
<line x1="71.50" y1="404.00" x2="77.5" y2="404.00" stroke="#151515" stroke-width="1.3"/>
<line x1="65.70" y1="430.50" x2="77.5" y2="430.50" stroke="#151515" stroke-width="1.3"/>
<line x1="71.50" y1="457.00" x2="77.5" y2="457.00" stroke="#151515" stroke-width="1.3"/>
<line x1="65.70" y1="483.50" x2="77.5" y2="483.50" stroke="#151515" stroke-width="1.3"/>
<line x1="71.50" y1="510.00" x2="77.5" y2="510.00" stroke="#151515" stroke-width="1.3"/>
<line x1="65.70" y1="536.50" x2="77.5" y2="536.50" stroke="#151515" stroke-width="1.3"/>
<line x1="615.5" y1="323.7" x2="615.5" y2="551.1" stroke="#151515" stroke-width="1.5"/>
<line x1="615.5" y1="324.70" x2="627.40" y2="324.70" stroke="#151515" stroke-width="1.3"/>
<line x1="615.5" y1="360.48" x2="621.90" y2="360.48" stroke="#151515" stroke-width="1.3"/>
<line x1="615.5" y1="396.27" x2="627.40" y2="396.27" stroke="#151515" stroke-width="1.3"/>
<line x1="615.5" y1="432.05" x2="621.90" y2="432.05" stroke="#151515" stroke-width="1.3"/>
<line x1="615.5" y1="467.83" x2="627.40" y2="467.83" stroke="#151515" stroke-width="1.3"/>
<line x1="615.5" y1="503.62" x2="621.90" y2="503.62" stroke="#151515" stroke-width="1.3"/>
<line x1="615.5" y1="539.40" x2="627.40" y2="539.40" stroke="#151515" stroke-width="1.3"/>
<line x1="77.5" y1="539.4" x2="615.5" y2="539.4" stroke="#151515" stroke-width="1.5"/>
<line x1="77.50" y1="539.4" x2="77.50" y2="551.1" stroke="#151515" stroke-width="1.3"/>
<line x1="185.10" y1="539.4" x2="185.10" y2="551.1" stroke="#151515" stroke-width="1.3"/>
<line x1="292.70" y1="539.4" x2="292.70" y2="551.1" stroke="#151515" stroke-width="1.3"/>
<line x1="400.30" y1="539.4" x2="400.30" y2="551.1" stroke="#151515" stroke-width="1.3"/>
<line x1="507.90" y1="539.4" x2="507.90" y2="551.1" stroke="#151515" stroke-width="1.3"/>
<line x1="615.50" y1="539.4" x2="615.50" y2="551.1" stroke="#151515" stroke-width="1.3"/>
<g clip-path="url(#cpl)"><rect x="209.7" y="30.8" width="45.20" height="14.60" fill="#fff"/>
<path d="M206.70 -35.90L257.90 15.30M206.70 -23.06L257.90 28.14M206.70 -10.22L257.90 40.98M206.70 2.62L257.90 53.82M206.70 15.46L257.90 66.66M206.70 28.30L257.90 79.50M206.70 41.14L257.90 92.34M206.70 53.98L257.90 105.18M206.70 66.82L257.90 118.02M206.70 12.02L257.90 -39.18M206.70 24.86L257.90 -26.34M206.70 37.70L257.90 -13.50M206.70 50.54L257.90 -0.66M206.70 63.38L257.90 12.18M206.70 76.22L257.90 25.02M206.70 89.06L257.90 37.86M206.70 101.90L257.90 50.70M206.70 114.74L257.90 63.54" stroke="#000" stroke-width="1.0" fill="none"/>
<path d="M210.05 32.05h2.9v2.9h-2.9zM210.05 44.05h2.9v2.9h-2.9zM216.05 38.05h2.9v2.9h-2.9zM223.05 32.05h2.9v2.9h-2.9zM223.05 44.05h2.9v2.9h-2.9zM229.05 38.05h2.9v2.9h-2.9zM236.05 32.05h2.9v2.9h-2.9zM236.05 44.05h2.9v2.9h-2.9zM242.05 38.05h2.9v2.9h-2.9zM248.05 32.05h2.9v2.9h-2.9zM248.05 44.05h2.9v2.9h-2.9zM255.05 38.05h2.9v2.9h-2.9z" fill="#000"/></g>
<rect x="210.2" y="31.3" width="44.2" height="13.6" fill="none" stroke="#c8c8c8" stroke-width="1"/>
<rect x="209.7" y="49" width="45.2" height="14.8" fill="#808080"/>
<g font-family="Liberation Sans" fill="#000"><text x="55.8" y="30.0" font-size="16.5" text-anchor="end" >80</text>
<text x="54.5" y="330.5" font-size="16.5" text-anchor="end" >80</text>
<text x="55.8" y="82.9" font-size="16.5" text-anchor="end" >60</text>
<text x="54.5" y="383.5" font-size="16.5" text-anchor="end" >60</text>
<text x="55.8" y="135.8" font-size="16.5" text-anchor="end" >40</text>
<text x="54.5" y="436.5" font-size="16.5" text-anchor="end" >40</text>
<text x="55.8" y="188.7" font-size="16.5" text-anchor="end" >20</text>
<text x="54.5" y="489.5" font-size="16.5" text-anchor="end" >20</text>
<text x="55.8" y="241.6" font-size="16.5" text-anchor="end" >0</text>
<text x="54.5" y="542.5" font-size="16.5" text-anchor="end" >0</text>
<text x="639.5" y="30.0" font-size="16.5" text-anchor="start" >3</text>
<text x="638.3" y="330.7" font-size="16.5" text-anchor="start" >3</text>
<text x="639.5" y="101.5" font-size="16.5" text-anchor="start" >2</text>
<text x="638.3" y="402.26666666666665" font-size="16.5" text-anchor="start" >2</text>
<text x="639.5" y="173.0" font-size="16.5" text-anchor="start" >1</text>
<text x="638.3" y="473.8333333333333" font-size="16.5" text-anchor="start" >1</text>
<text x="639.5" y="244.5" font-size="16.5" text-anchor="start" >0</text>
<text x="638.3" y="545.4" font-size="16.5" text-anchor="start" >0</text>
<text x="111.5" y="62.5" font-size="19" text-anchor="start" >a</text>
<text x="116" y="320.5" font-size="19" text-anchor="start" >b</text>
<text x="210.3" y="11.7" font-size="14" text-anchor="start" font-weight="bold" textLength="132" lengthAdjust="spacingAndGlyphs">Low flow period</text>
<text x="204" y="325.4" font-size="14" text-anchor="start" font-weight="bold" textLength="136" lengthAdjust="spacingAndGlyphs">High flow period</text>
<text x="263.6" y="43.1" font-size="13.5" text-anchor="start" textLength="73.4" lengthAdjust="spacingAndGlyphs">Upper river</text>
<text x="263.6" y="61.3" font-size="13.5" text-anchor="start" textLength="73.4" lengthAdjust="spacingAndGlyphs">Lower river</text></g>
<g font-family="Liberation Sans" font-size="18">
<text transform="translate(14.9,359.6) rotate(-90)">Concentration (<tspan font-family="Liberation Serif" fill="#c4c4c4" font-size="17">μM</tspan><tspan font-family="Liberation Serif" fill="#d8d8d8" font-size="17" dx="4.5">)</tspan></text>
<text transform="translate(680.4,315) rotate(-90)" font-size="17.5">Ammonium (<tspan font-family="Liberation Serif" fill="#c4c4c4" font-size="15" dx="1.5">μ</tspan><tspan dx="1">M)</tspan></text>
</g>
<g font-family="Liberation Sans" font-size="18">
<text transform="translate(157.2,628.3) rotate(-40)" font-size="17.7">NO3+NO2</text>
<text transform="translate(265.2,628.8) rotate(-40)" font-size="17.7">Phosphate</text>
<text transform="translate(382,611.5) rotate(-40)">Silicate</text>
<text transform="translate(478.3,631.6) rotate(-40)" font-size="17.4">Ammonium</text>
</g>
</svg>
</body></html>
